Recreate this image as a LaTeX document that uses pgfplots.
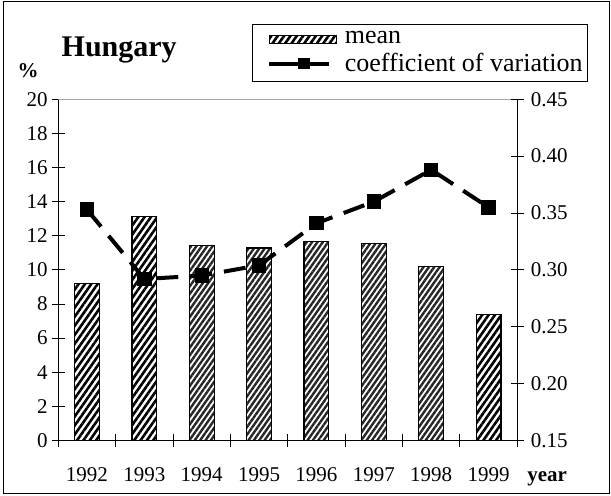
\documentclass[border=0pt]{standalone}
\usepackage{fontspec}
\setmainfont{LiberationSerif}[Extension=.ttf, UprightFont=*-Regular, BoldFont=*-Bold,
  ItalicFont=*-Italic, BoldItalicFont=*-BoldItalic]
\usepackage{pgfplots}
\pgfplotsset{compat=1.18}
\usetikzlibrary{patterns.meta}

% mean (%) per year, split by hatch look
\pgfplotstableread{
year mean
1992 9.2
1993 13.15
1999 7.4
}\meanbold
\pgfplotstableread{
year mean
1994 11.45
1995 11.28
1996 11.67
1997 11.57
1998 10.2
}\meangray
\pgfplotstableread{
year cv
1992 0.353
1993 0.292
1994 0.295
1995 0.304
1996 0.341
1997 0.360
1998 0.388
1999 0.355
}\cvdata

\tikzset{
  boldhatch/.style={pattern={Lines[angle=55,distance=2.6pt,line width=1.3pt]}, pattern color=black},
  grayhatch/.style={pattern={Lines[angle=55,distance=2.2pt,line width=1.2pt]}, pattern color=black!85},
}

\begin{document}
\begin{tikzpicture}
\useasboundingbox (-29.15pt,-27.75pt) rectangle (276.35pt,220.25pt);
\pgfplotsset{
  every axis/.append style={
    scale only axis, width=229.5pt, height=170.6pt,
    at={(0,0)}, anchor=south west,
    xmin=1991.5, xmax=1999.5,
    tick align=center, major tick length=6.5pt, minor tick length=6.5pt,
    every tick/.style={black, line width=0.5pt},
    axis line style={black, line width=0.5pt, -},
    ticklabel style={font=\fontsize{10.5}{12}\selectfont},
    /pgf/number format/assume math mode=true,
  },
}
\begin{axis}[
  axis x line*=bottom, axis y line*=left,
  ymin=0, ymax=20, ytick={0,2,4,6,8,10,12,14,16,18,20},
  yticklabel style={xshift=1.5pt},
  xtick={1992,1993,1994,1995,1996,1997,1998,1999},
  xticklabels={1992,1993,1994,1995,1996,1997,1998,1999},
  xticklabel style={text height=7pt, text depth=0pt, yshift=-6.8pt},
  minor xtick={1991.5,1992.5,1993.5,1994.5,1995.5,1996.5,1997.5,1998.5,1999.5},
  major x tick style={draw=none},
]
\draw[gray!70, line width=0.6pt] (rel axis cs:0,1) -- (rel axis cs:1,1);
\addplot[ybar, bar width=12.4pt, bar shift=0pt, draw=black, line width=0.6pt, boldhatch]
  table[x=year, y=mean] {\meanbold};
\addplot[ybar, bar width=12.4pt, bar shift=0pt, draw=black, line width=0.6pt, grayhatch]
  table[x=year, y=mean] {\meangray};
\end{axis}
\begin{axis}[
  axis x line=none, axis y line*=right,
  ymin=0.15, ymax=0.45, ytick={0.15,0.20,0.25,0.30,0.35,0.40,0.45},
  yticklabel style={/pgf/number format/.cd, fixed, fixed zerofill, precision=2},
  legend style={at={(0.4227,1.22)}, anchor=north west, draw=black, line width=0.5pt,
    inner xsep=0.5pt, inner ysep=1.5pt,
    font=\fontsize{13}{14}\selectfont, legend cell align=left, row sep=-1pt},
]
\addlegendimage{legend image code/.code={
  \path[draw=none, fill=none] (0pt,0pt) -- (43.5pt,0pt);
  \draw[boldhatch, draw=black, line width=0.5pt] (8pt,-2pt) rectangle (41.5pt,2pt);}}
\addlegendentry{mean}
\addlegendimage{legend image code/.code={
  \path[draw=none, fill=none] (0pt,0pt) -- (43.5pt,0pt);
  \draw[black, line width=2pt] (7.5pt,0pt) -- (37.5pt,0pt);
  \fill[black] (25pt,0pt) +(-2.6pt,-2.6pt) rectangle +(2.6pt,2.6pt);}}
\addlegendentry{coefficient of variation}
\addplot[forget plot, black, line width=2pt, dash pattern=on 11pt off 6pt,
  mark=square*, mark size=2.6pt, mark options={solid}]
  table[x=year, y=cv] {\cvdata};
\end{axis}
\draw[line width=0.5pt] (-27.5pt,-26.75pt) rectangle (275.6pt,219.5pt);
\node[anchor=base west, inner sep=0, font=\bfseries\fontsize{15}{18}\selectfont] at (1.5pt,191.9pt) {Hungary};
\node[inner sep=0, font=\bfseries\fontsize{10.5}{12}\selectfont] at (-15.1pt,184.7pt) {\%};
\node[anchor=base west, inner sep=0, font=\bfseries\fontsize{10.5}{12}\selectfont] at (234.3pt,-20.6pt) {year};
\end{tikzpicture}
\end{document}
